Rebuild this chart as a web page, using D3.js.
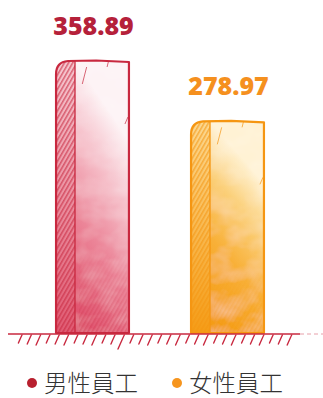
<!DOCTYPE html>
<html>
<head>
<meta charset="utf-8">
<script src="https://cdn.jsdelivr.net/npm/d3@7"></script>
<style>
  html, body { margin: 0; padding: 0; background: #fff; }
  svg { display: block; }
</style>
</head>
<body>
<svg id="chart" width="323" height="398"></svg>
<script>
// Average figures per group
const categories = ["男性員工", "女性員工"];
const values = [358.89, 278.97];
const valueLabels = ["358.89", "278.97"];

const palette = [
  { edge: "#c8283f", label: "#b5213a", top: "#fdf3f5", mid: "#f6c0ca", low: "#ec8699", bottom: "#de4a66", bandTop: "#f6c8d0", bandBottom: "#e05a72", dot: "#b8202f" },
  { edge: "#f59612", label: "#f5901e", top: "#fff2d4", mid: "#fbd07a", low: "#f8b038", bottom: "#f49a12", bandTop: "#fcd890", bandBottom: "#f59c16", dot: "#f6951e" }
];

const W = 323, H = 398;
const baseY = 333;
const svg = d3.select("#chart");
const defs = svg.append("defs");

const x = d3.scaleBand().domain(categories).range([25, 295]).paddingInner(0.46).paddingOuter(0.23);
const y = d3.scaleLinear().domain([0, d3.max(values)]).range([baseY, 62]);

// paper-like grain for the washes
const grain = defs.append("filter").attr("id", "wash").attr("x", 0).attr("y", 0).attr("width", 1).attr("height", 1);
grain.append("feTurbulence").attr("type", "fractalNoise").attr("baseFrequency", "0.035 0.05").attr("numOctaves", 3).attr("seed", 4).attr("result", "n");
grain.append("feColorMatrix").attr("in", "n").attr("type", "matrix")
  .attr("values", "0 0 0 0 1  0 0 0 0 1  0 0 0 0 1  0 0 0 0.4 -0.14").attr("result", "spots");
grain.append("feComposite").attr("in", "spots").attr("in2", "SourceGraphic").attr("operator", "in").attr("result", "s2");
grain.append("feMerge").selectAll("feMergeNode").data(["SourceGraphic", "s2"]).join("feMergeNode").attr("in", d => d);

// fade mask for the loose lower hatching
const fade = defs.append("linearGradient").attr("id", "fadeGrad").attr("x1", 0).attr("y1", 0).attr("x2", 0).attr("y2", 1);
fade.append("stop").attr("offset", "0%").attr("stop-color", "#fff").attr("stop-opacity", 0);
fade.append("stop").attr("offset", "100%").attr("stop-color", "#fff").attr("stop-opacity", 1);
defs.append("mask").attr("id", "fadeMask").attr("maskContentUnits", "objectBoundingBox")
  .append("rect").attr("width", 1).attr("height", 1).attr("fill", "url(#fadeGrad)");

palette.forEach((p, i) => {
  const g = defs.append("linearGradient").attr("id", "fill" + i)
    .attr("x1", 0.7).attr("y1", 0).attr("x2", 0.3).attr("y2", 1);
  g.append("stop").attr("offset", "0%").attr("stop-color", p.top);
  g.append("stop").attr("offset", "15%").attr("stop-color", p.top);
  g.append("stop").attr("offset", "36%").attr("stop-color", p.mid);
  g.append("stop").attr("offset", "62%").attr("stop-color", p.low);
  g.append("stop").attr("offset", "100%").attr("stop-color", p.bottom);
  const b = defs.append("linearGradient").attr("id", "band" + i).attr("x1", 0).attr("y1", 0).attr("x2", 0).attr("y2", 1);
  b.append("stop").attr("offset", "0%").attr("stop-color", p.bandTop);
  b.append("stop").attr("offset", "100%").attr("stop-color", p.bandBottom);
  const pat = defs.append("pattern").attr("id", "hatch" + i).attr("patternUnits", "userSpaceOnUse")
    .attr("width", 3.6).attr("height", 6).attr("patternTransform", "rotate(30)");
  pat.append("line").attr("x1", 0.8).attr("y1", 0).attr("x2", 0.8).attr("y2", 6)
    .attr("stroke", p.edge).attr("stroke-width", 1.1).attr("stroke-opacity", 0.85);
});

const bars = svg.append("g").selectAll("g.bar").data(categories).join("g").attr("class", "bar");

bars.each(function (c, i) {
  const g = d3.select(this);
  const p = palette[i];
  const x0 = x(c), bw = x.bandwidth(), x1 = x0 + bw;
  const top = y(values[i]);
  const band = bw * 0.26;
  const r = 12;
  const outline = `M${x0},${baseY} L${x0},${top + r} Q${x0},${top} ${x0 + r},${top - 1} L${x0 + bw * 0.55},${top - 1.5} L${x1},${top} L${x1},${baseY} Z`;

  g.append("path").attr("d", outline).attr("fill", `url(#fill${i})`).attr("filter", "url(#wash)");
  // side face with hatching
  const side = `M${x0},${baseY} L${x0},${top + r} Q${x0},${top} ${x0 + r},${top - 1} L${x0 + band},${top - 1} L${x0 + band},${baseY} Z`;
  g.append("path").attr("d", side).attr("fill", `url(#band${i})`);
  g.append("path").attr("d", side).attr("fill", `url(#hatch${i})`);
  // loose hatching fading in on the lower front face
  g.append("rect").attr("x", x0 + band + 4).attr("y", baseY - (baseY - top) * 0.3)
    .attr("width", bw - band - 6).attr("height", (baseY - top) * 0.3)
    .attr("fill", `url(#hatch${i})`).attr("opacity", 0.45).attr("mask", "url(#fadeMask)");
  // ink outline
  g.append("path").attr("d", outline).attr("fill", "none").attr("stroke", p.edge)
    .attr("stroke-width", 2.2).attr("stroke-linejoin", "round");
  g.append("line").attr("x1", x0 + band).attr("x2", x0 + band).attr("y1", top - 1).attr("y2", baseY)
    .attr("stroke", p.edge).attr("stroke-width", 1.3);
  // small sketch ticks near the top and right edge
  g.append("path").attr("d", `M${x0 + bw * 0.42},${top + 5} L${x0 + bw * 0.36},${top + 22} M${x0 + bw * 0.72},${top - 1} L${x0 + bw * 0.70},${top + 5} M${x1 - 1},${top + 55} L${x1 - 4},${top + 62}`)
    .attr("stroke", p.edge).attr("stroke-width", 1).attr("fill", "none").attr("opacity", 0.7);
});

// value labels
svg.append("g").selectAll("text").data(categories).join("text")
  .attr("x", c => x(c) + x.bandwidth() / 2 + 1)
  .attr("y", (c, i) => y(values[i]) - 27)
  .attr("text-anchor", "middle")
  .attr("font-family", "'Open Sans', sans-serif")
  .attr("font-weight", 800)
  .attr("font-size", 25)
  .attr("fill", (c, i) => palette[i].label)
  .text((c, i) => valueLabels[i]);

// hand-drawn ground line with hatching
const ground = svg.append("g");
ground.append("line").attr("x1", 8).attr("x2", 300).attr("y1", baseY + 1).attr("y2", baseY + 1)
  .attr("stroke", "#c8283f").attr("stroke-width", 1.6);
ground.append("line").attr("x1", 300).attr("x2", 323).attr("y1", baseY + 1).attr("y2", baseY + 1)
  .attr("stroke", "#e7a0aa").attr("stroke-width", 1).attr("stroke-dasharray", "4,3");
const hatchXs = d3.range(22, 298, 9.3);
ground.selectAll("path.h").data(hatchXs).join("path").attr("class", "h")
  .attr("d", (d, k) => {
    const len = (k === 11) ? 14 : 8 + (k % 3);
    return `M${d},${baseY + 2} Q${d - 1},${baseY + 4} ${d - len * 0.45},${baseY + 2 + len}`;
  })
  .attr("fill", "none").attr("stroke", "#c8283f").attr("stroke-width", 1.4).attr("stroke-linecap", "round");

// legend
const legendX = [32, 177];
const legend = svg.append("g").selectAll("g").data(categories).join("g")
  .attr("transform", (c, i) => `translate(${legendX[i]},383)`);
legend.append("circle").attr("r", 5).attr("fill", (c, i) => palette[i].dot);
legend.append("text").attr("x", 12).attr("y", 9)
  .attr("font-family", "'Noto Sans CJK TC', 'Noto Sans CJK SC', sans-serif")
  .attr("font-weight", 300)
  .attr("font-size", 23.5).attr("fill", "#333").text(c => c);
</script>
</body>
</html>
